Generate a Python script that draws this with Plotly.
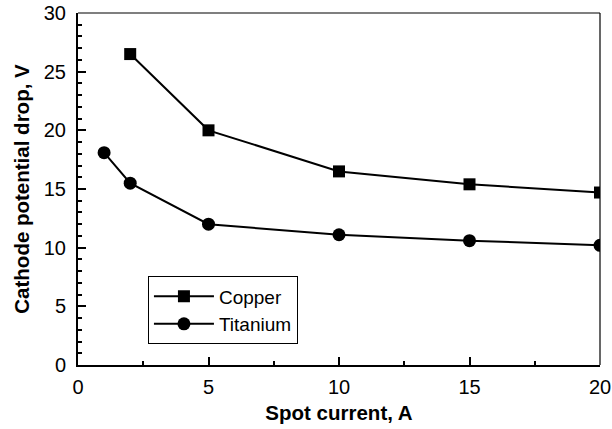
import plotly.graph_objects as go

copper_x = [2, 5, 10, 15, 20]
copper_y = [26.5, 20.0, 16.5, 15.4, 14.7]
titanium_x = [1, 2, 5, 10, 15, 20]
titanium_y = [18.1, 15.5, 12.0, 11.1, 10.6, 10.2]

x_ticks = [0, 5, 10, 15, 20]
y_ticks = [0, 5, 10, 15, 20, 25, 30]

fig = go.Figure()
fig.add_trace(go.Scatter(x=copper_x, y=copper_y, mode="lines+markers", name="Copper",
                         line=dict(color="black", width=2),
                         marker=dict(symbol="square", size=12, color="black")))
fig.add_trace(go.Scatter(x=titanium_x, y=titanium_y, mode="lines+markers", name="Titanium",
                         line=dict(color="black", width=2),
                         marker=dict(symbol="circle", size=13, color="black")))

fig.update_layout(
    width=612, height=429,
    margin=dict(l=78, r=12, t=13, b=64),
    plot_bgcolor="white", paper_bgcolor="white",
    font=dict(family="Liberation Sans, Arial, sans-serif", color="black", size=20),
    showlegend=True,
    legend=dict(x=0.134, y=0.252, xanchor="left", yanchor="top",
                bordercolor="black", borderwidth=1, bgcolor="white",
                font=dict(size=19), tracegroupgap=0, itemwidth=60),
    xaxis=dict(range=[0, 20], tickvals=x_ticks, ticks="inside", ticklen=8, tickwidth=1.5,
               tickcolor="black", showline=True, linecolor="black", linewidth=2,
               showgrid=False, zeroline=False, ticklabelstandoff=3, automargin=False,
               minor=dict(tickvals=[2.5, 7.5, 12.5, 17.5], ticks="inside", ticklen=4, tickcolor="black"),
               title=dict(text="<b>Spot current, A</b>", font=dict(size=20.5), standoff=9)),
    yaxis=dict(range=[0, 30], tickvals=y_ticks, ticks="inside", ticklen=8, tickwidth=1.5,
               tickcolor="black", showline=True, linecolor="black", linewidth=2,
               showgrid=False, zeroline=False, ticklabelstandoff=6, automargin=False,
               minor=dict(dtick=1, ticks="inside", ticklen=4, tickcolor="black"),
               title=dict(text="<b>Cathode potential drop, V</b>", font=dict(size=20.5), standoff=9)),
)
fig.add_shape(type="line", xref="paper", yref="paper", x0=0, x1=1, y0=1, y1=1,
              line=dict(color="black", width=1.2))
fig.add_shape(type="line", xref="paper", yref="paper", x0=1, x1=1, y0=0, y1=1,
              line=dict(color="black", width=1.2))

fig.write_html("out.html")
